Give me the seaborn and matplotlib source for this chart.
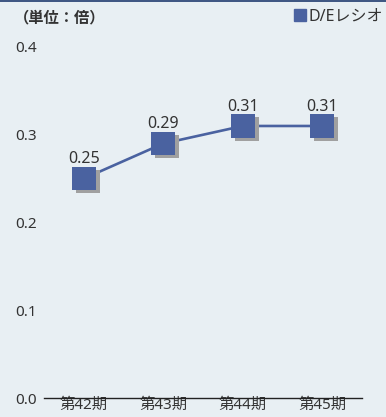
import matplotlib
matplotlib.use("Agg")
import matplotlib.pyplot as plt
import matplotlib.transforms as mtransforms
from matplotlib.lines import Line2D
import seaborn as sns
import pandas as pd

periods = ["第42期", "第43期", "第44期", "第45期"]
de_ratio = [0.25, 0.29, 0.31, 0.31]
y_ticks = [0.0, 0.1, 0.2, 0.3, 0.4]

bg = "#e8eff3"
blue = "#4a62a0"
shadow = "#a0a0a0"
text_color = "#333333"

sns.set_theme(style="white")
plt.rcParams["font.family"] = ["Noto Sans", "Noto Sans CJK JP", "DejaVu Sans"]

df = pd.DataFrame({"period": periods, "ratio": de_ratio, "x": range(len(periods))})

fig = plt.figure(figsize=(3.86, 4.17), dpi=100, facecolor=bg)
ax = fig.add_axes([44 / 386, 1 - 398 / 417, 318 / 386, 351 / 417])
ax.set_facecolor(bg)

sns.lineplot(data=df, x="x", y="ratio", ax=ax, color=blue, linewidth=1.9, zorder=2)

# drop shadow under each marker
shift = mtransforms.ScaledTranslation(4 / 100, -3 / 100, fig.dpi_scale_trans)
sns.scatterplot(data=df, x="x", y="ratio", ax=ax, marker="s", s=17 ** 2,
                color=shadow, edgecolor="none", linewidth=0, zorder=3,
                transform=ax.transData + shift, clip_on=False)
sns.scatterplot(data=df, x="x", y="ratio", ax=ax, marker="s", s=17 ** 2,
                color=blue, edgecolor="none", linewidth=0, zorder=4, clip_on=False)

for xi, v in zip(df["x"], df["ratio"]):
    ax.annotate(f"{v:.2f}", (xi, v), xytext=(0, 11), textcoords="offset points",
                ha="center", va="baseline", fontsize=11.5, color=text_color)

ax.set_xlim(-0.5, len(periods) - 0.5)
ax.set_ylim(0, 0.4)
ax.set_xticks(list(range(len(periods))))
ax.set_xticklabels(periods, fontsize=11, color=text_color)
ax.set_yticks(y_ticks)
ax.set_yticklabels([f"{t:.1f}" for t in y_ticks], fontsize=11, color=text_color)
ax.tick_params(axis="x", length=0, pad=0)
ax.tick_params(axis="y", length=0, pad=5)
ax.set_xlabel("")
ax.set_ylabel("")
for side in ["top", "right", "left"]:
    ax.spines[side].set_visible(False)
ax.spines["bottom"].set_color("#222222")
ax.spines["bottom"].set_linewidth(1.0)

fig.text(14 / 386, 1 - 17 / 417, "（単位：倍）", fontsize=11, fontweight="bold",
         color=text_color, ha="left", va="center",
         family=["Noto Sans CJK JP", "DejaVu Sans"])

handle = Line2D([], [], marker="s", linestyle="none", color=blue, markersize=8.5)
fig.legend([handle], ["D/Eレシオ"], loc="center right",
           bbox_to_anchor=(1.0, 1 - 17 / 417), frameon=False, fontsize=11.5,
           handletextpad=0.1, borderpad=0.1, borderaxespad=0.1, handlelength=0.9,
           labelcolor=text_color)

# thin dark rule along the top edge
fig.add_artist(Line2D([0, 1], [1 - 0.5 / 417, 1 - 0.5 / 417], transform=fig.transFigure,
                      color="#1f3a6e", linewidth=1.2))

fig.savefig("out.png", dpi=100, facecolor=bg)
